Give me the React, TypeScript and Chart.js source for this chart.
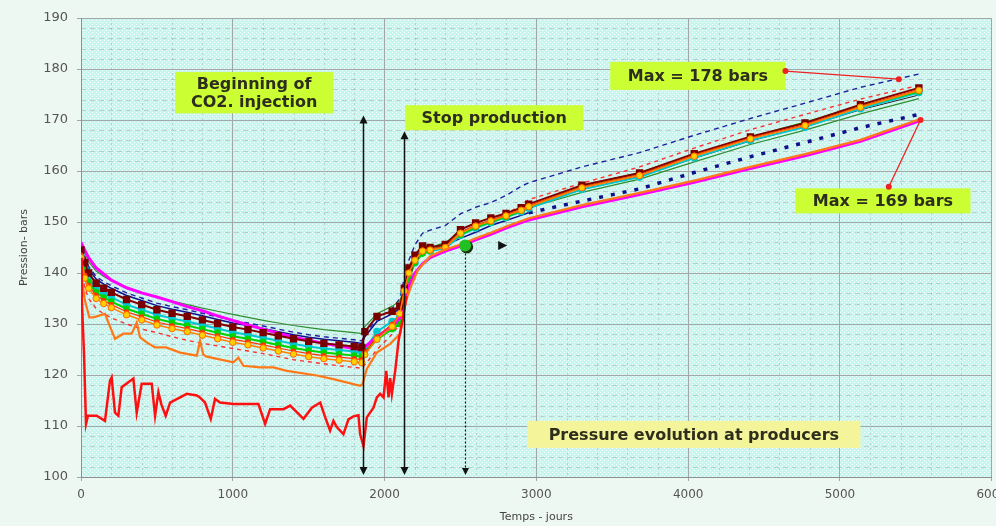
import { useEffect, useRef } from "react";
import { Chart, registerables } from "chart.js";

Chart.register(...registerables);

// ---------------- data ----------------
const earlyDays = [0, 25, 50, 100, 150, 200, 300, 400, 500, 600, 700, 800, 900, 1000, 1100, 1200, 1300, 1400, 1500, 1600, 1700, 1800, 1850];
const lateDays = [1870, 1950, 2050, 2100, 2130, 2160, 2200, 2250, 2300, 2400, 2500, 2600, 2700, 2800, 2900, 2950, 3300, 3680, 4040, 4410, 4770, 5135, 5520];
const days = [...earlyDays, ...lateDays];

const magentaP = [146, 144.5, 143, 141, 139.8, 138.6, 137.1, 136.1, 135.3, 134.4, 133.4, 132.6, 131.6, 130.7, 129.8, 129, 128.2, 127.4, 126.8, 126.2, 125.7, 125.2, 125,
  125.5, 127.5, 129.5, 131.2, 134.6, 137.5, 140, 141.8, 143, 144.3, 145.3, 146.5, 147.6, 148.8, 149.9, 150.4, 153, 155.4, 157.8, 160.5, 163, 165.8, 169.8];
const orangeMarkP = [143, 139, 137, 135, 134, 133.2, 131.8, 130.8, 129.8, 129.1, 128.5, 127.8, 127.1, 126.4, 125.9, 125.3, 124.7, 124.1, 123.6, 123.2, 122.9, 122.6, 122.4,
  124, 127, 129.5, 132, 136.5, 140, 142.5, 144.3, 144.5, 145, 147.8, 149.2, 150.2, 151.2, 152.3, 153, 156.7, 159.1, 162.9, 166.3, 168.9, 172.5, 175.8];
const maroonP = [144.5, 142, 140, 138, 137, 136.2, 134.8, 133.8, 132.8, 132.1, 131.5, 130.8, 130.1, 129.4, 128.9, 128.3, 127.7, 127.1, 126.6, 126.2, 125.9, 125.6, 125.4,
  128.5, 131.5, 132.5, 133.5, 137, 141, 143.5, 145.3, 145, 145.6, 148.5, 149.8, 150.8, 151.7, 152.8, 153.5, 157.2, 159.6, 163.4, 166.7, 169.4, 173, 176.3];
const cyanP = [144, 141, 139, 137, 136, 135.2, 133.8, 132.8, 131.8, 131.1, 130.5, 129.8, 129.1, 128.4, 127.9, 127.3, 126.7, 126.1, 125.6, 125.2, 124.9, 124.6, 124.4,
  125, 128.5, 130.5, 131.5, 136, 139.5, 142, 144, 144.3, 144.8, 147.4, 148.8, 149.9, 150.9, 152, 152.7, 156.4, 158.8, 162.6, 166, 168.6, 172.2, 175.4];
const greenP = [144, 140.2, 138.2, 136.2, 135.2, 134.4, 133, 132, 131, 130.3, 129.7, 129, 128.3, 127.6, 127.1, 126.5, 125.9, 125.3, 124.8, 124.4, 124.1, 123.8, 123.6,
  124.5, 127, 129, 130, 135, 139, 142, 143.8, 144.3, 145.5, 147.5, 149, 150, 151, 152.2, 153, 157, 159.6, 163.2, 166.6, 169.5, 172.7, 175.6];
const redMarkP = [143.5, 139.6, 137.6, 135.6, 134.6, 133.8, 132.4, 131.4, 130.4, 129.7, 129.1, 128.4, 127.7, 127, 126.5, 125.9, 125.3, 124.7, 124.2, 123.8, 123.5, 123.2, 123,
  124.5, 127.5, 130, 132, 136.5, 140, 142.5, 144.5, 144.7, 145.2, 148, 149.4, 150.4, 151.4, 152.5, 153.2, 156.9, 159.3, 163.1, 166.5, 169.1, 172.7, 176];
const blueP = [145, 142.8, 140.8, 138.8, 137.8, 137, 135.6, 134.6, 133.6, 132.9, 132.3, 131.6, 130.9, 130.2, 129.7, 129.1, 128.5, 127.9, 127.4, 127, 126.7, 126.4, 126.2,
  127.5, 130.5, 132, 133, 136, 139.5, 142.5, 144, 144.5, 145.5, 146.8, 148, 149.3, 150.3, 151.3, 151.8, 154.1, 156.5, 159.7, 162.8, 165.6, 168.5, 171.1];
const navyDashP = [145, 143.3, 141.3, 139.3, 138.3, 137.5, 136.1, 135.1, 134.1, 133.4, 132.8, 132.1, 131.4, 130.7, 130.2, 129.6, 129, 128.4, 127.9, 127.5, 127.2, 126.9, 126.7,
  128, 131, 133, 135, 139, 142.5, 145.5, 147.8, 148.4, 149.3, 151.6, 152.9, 153.8, 155.2, 157, 157.7, 160.8, 163.6, 167, 170.3, 173.3, 176.4, 179];
const darkGreenP = [145, 144, 142.2, 140.4, 139.3, 138.5, 137.2, 136.2, 135.3, 134.5, 133.8, 133.1, 132.5, 131.9, 131.3, 130.7, 130.2, 129.7, 129.3, 128.9, 128.6, 128.3, 128.1,
  129.5, 132, 133.5, 134.5, 137, 140.5, 143, 144.5, 145, 146, 148, 149.3, 150.3, 151.3, 152.3, 152.8, 155.8, 158.4, 161.8, 165.2, 168, 171.2, 174.2];
const redDashP = [141, 137, 135, 133, 132, 131.2, 130, 129, 128.3, 127.5, 126.8, 126.2, 125.7, 125.2, 124.7, 124.2, 123.6, 123, 122.6, 122.2, 121.8, 121.5, 121.3,
  122, 125, 128, 130, 135, 139, 142, 144, 144.3, 145, 147.5, 149, 150.2, 151.5, 153.4, 154.4, 157.6, 160.8, 164.5, 168.1, 171.1, 174.1, 176.8];

const blackDays = [2950, 3300, 3680, 4040, 4410, 4770, 5135, 5520];
const blackP = [152.9, 156.4, 158.9, 162.5, 165.9, 168.7, 172, 174.9];

const orangeDays = [0, 26, 55, 81, 125, 158, 180, 224, 279, 334, 367, 389, 433, 488, 560, 653, 763, 784, 806, 828, 1004, 1037, 1070, 1180, 1268, 1356, 1554, 1663, 1839, 1855,
  1883, 1949, 2037, 2103, 2140, 2180, 2220, 2300, 2400, 2500, 2600, 2700, 2800, 2900, 2950, 3300, 3680, 4040, 4410, 4770, 5135, 5520];
const orangeP = [140, 134.6, 131.3, 131.3, 131.7, 132, 130.3, 127.1, 128.1, 128.1, 130.3, 127.4, 126.4, 125.4, 125.4, 124.4, 123.8, 126.7, 124, 123.6, 122.5, 123.4, 121.8, 121.5, 121.5, 120.8, 119.9, 119.2, 117.9, 118.2,
  121.2, 124.4, 126.1, 128.1, 134.5, 137.8, 140.6, 143.3, 144.6, 145.6, 146.8, 147.9, 149.1, 150.2, 150.7, 153.3, 155.7, 158.1, 160.8, 163.3, 166.1, 170.1];

const redDays = [0, 5, 20, 33, 46, 103, 158, 191, 202, 224, 246, 268, 345, 367, 400, 466, 488, 510, 530, 558, 587, 653, 697, 763, 783, 817, 855, 883, 916, 1004,
  1114, 1169, 1213, 1246, 1334, 1378, 1466, 1521, 1576, 1609, 1641, 1663, 1685, 1729, 1762, 1795, 1828, 1839, 1861, 1883, 1927, 1949, 1971, 1993, 2011, 2026, 2037, 2048, 2070, 2092, 2120, 2145];
const redP = [143, 135, 124, 110.4, 112, 112, 111, 118.9, 119.5, 112.6, 112, 117.6, 119.3, 112.6, 118.3, 118.3, 112, 116.6, 114.2, 112, 114.6, 115.6, 116.3, 116, 115.6, 114.6, 111.4, 115.3, 114.6, 114.3,
  114.3, 114.3, 110.4, 113.3, 113.3, 114, 111.4, 113.6, 114.6, 111.7, 109.1, 111, 109.8, 108.4, 111.3, 111.9, 112.1, 108.4, 106.1, 111.7, 113.6, 115.6, 116.3, 115.6, 120.8, 115.6, 119.4, 116.3, 120.8, 126.7, 131, 135.5];

// event markers (days / bars)
const arrowDays = [1855, 2131];
const arrowTops = [170.9, 167.8];
const wellDay = 2531;
const wellP = 145.4;
const cursorDay = 2775;
const cursorP = 145.4;

// annotation texts with their anchor ranges in data units
const notes = [
  { lines: ["Beginning of", "CO2. injection"], x: [620, 1661], y: [171.3, 179.4], fill: "#ccff33" },
  { lines: ["Stop production"], x: [2136, 3309], y: [168.0, 172.9], fill: "#ccff33" },
  { lines: ["Max = 178 bars"], x: [3487, 4641], y: [175.9, 181.4], fill: "#ccff33" },
  { lines: ["Max = 169 bars"], x: [4707, 5860], y: [151.7, 156.6], fill: "#ccff33" },
  { lines: ["Pressure evolution at producers"], x: [2940, 5135], y: [105.7, 111.0], fill: "#f4f49a" },
];
const pointers = [
  { from: [4641, 179.6], to: [5388, 178.0] },
  { from: [5322, 156.9], to: [5531, 170.0] },
];

const pts = (xs: number[], ys: number[]) => xs.map((x, i) => ({ x, y: ys[i] }));

function makePattern(ctx: CanvasRenderingContext2D) {
  const c = document.createElement("canvas");
  c.width = 4;
  c.height = 4;
  const g = c.getContext("2d")!;
  g.fillStyle = "#c9f5ef";
  g.fillRect(0, 0, 4, 4);
  g.fillStyle = "#f4fffd";
  g.fillRect(0, 0, 1, 1);
  g.fillRect(2, 2, 1, 1);
  return ctx.createPattern(c, "repeat");
}

function head(ctx: CanvasRenderingContext2D, x: number, y: number, dir: string, s: number) {
  ctx.beginPath();
  if (dir === "up") {
    ctx.moveTo(x, y);
    ctx.lineTo(x - s / 2, y + s);
    ctx.lineTo(x + s / 2, y + s);
  } else if (dir === "down") {
    ctx.moveTo(x, y);
    ctx.lineTo(x - s / 2, y - s);
    ctx.lineTo(x + s / 2, y - s);
  } else {
    ctx.moveTo(x, y);
    ctx.lineTo(x - s, y - s / 2);
    ctx.lineTo(x - s, y + s / 2);
  }
  ctx.closePath();
  ctx.fill();
}

const overlay = {
  id: "overlay",
  beforeDraw(chart: any) {
    const { ctx, chartArea: a, scales } = chart;
    const xs = scales.x;
    const ys = scales.y;
    ctx.save();
    ctx.fillStyle = makePattern(ctx) || "#d2f4ef";
    ctx.fillRect(a.left, a.top, a.right - a.left, a.bottom - a.top);
    ctx.strokeStyle = "rgba(120,130,130,0.32)";
    ctx.lineWidth = 1;
    ctx.setLineDash([5, 4]);
    for (let v = 100; v <= 190; v += 2) {
      if (v % 10 === 0) continue;
      const y = Math.round(ys.getPixelForValue(v)) + 0.5;
      ctx.beginPath();
      ctx.moveTo(a.left, y);
      ctx.lineTo(a.right, y);
      ctx.stroke();
    }
    ctx.setLineDash([2, 3]);
    for (let d = 0; d <= 6000; d += 200) {
      if (d % 1000 === 0) continue;
      const x = Math.round(xs.getPixelForValue(d)) + 0.5;
      ctx.beginPath();
      ctx.moveTo(x, a.top);
      ctx.lineTo(x, a.bottom);
      ctx.stroke();
    }
    ctx.restore();
  },
  afterDatasetsDraw(chart: any) {
    const { ctx, scales } = chart;
    const X = (v: number) => scales.x.getPixelForValue(v);
    const Y = (v: number) => scales.y.getPixelForValue(v);
    ctx.save();
    // vertical arrows
    ctx.strokeStyle = "#111";
    ctx.fillStyle = "#111";
    ctx.lineWidth = 1.5;
    arrowDays.forEach((d, i) => {
      const x = Math.round(X(d)) + 0.5;
      const yt = Y(arrowTops[i]);
      const yb = Y(100) - 2;
      ctx.beginPath();
      ctx.moveTo(x, yt + 4);
      ctx.lineTo(x, yb - 4);
      ctx.stroke();
      head(ctx, x, yt, "up", 8);
      head(ctx, x, yb, "down", 8);
    });
    // dotted arrow from well marker
    const wx = Math.round(X(wellDay)) + 0.5;
    ctx.setLineDash([2, 2]);
    ctx.lineWidth = 1.2;
    ctx.beginPath();
    ctx.moveTo(wx, Y(wellP));
    ctx.lineTo(wx, Y(100) - 6);
    ctx.stroke();
    ctx.setLineDash([]);
    head(ctx, wx, Y(100) - 2, "down", 7);
    // well marker
    ctx.fillStyle = "#1e2a10";
    ctx.beginPath();
    ctx.arc(X(wellDay) + 1.5, Y(wellP) + 1.5, 6.5, 0, Math.PI * 2);
    ctx.fill();
    ctx.fillStyle = "#22c022";
    ctx.beginPath();
    ctx.arc(X(wellDay), Y(wellP), 6, 0, Math.PI * 2);
    ctx.fill();
    // cursor arrowhead
    ctx.fillStyle = "#111";
    head(ctx, X(cursorDay) + 5, Y(cursorP), "right", 9);
    // notes
    ctx.font = 'bold 16px "DejaVu Sans"';
    ctx.textAlign = "center";
    ctx.textBaseline = "middle";
    notes.forEach((n) => {
      const x1 = X(n.x[0]);
      const x2 = X(n.x[1]);
      const y1 = Y(n.y[1]);
      const y2 = Y(n.y[0]);
      ctx.fillStyle = n.fill;
      ctx.fillRect(x1, y1, x2 - x1, y2 - y1);
      ctx.fillStyle = "#2e2e1e";
      const cx = (x1 + x2) / 2;
      const cy = (y1 + y2) / 2;
      const lh = 18;
      n.lines.forEach((t, i) => {
        ctx.fillText(t, cx, cy + (i - (n.lines.length - 1) / 2) * lh + 1);
      });
    });
    // red pointers
    ctx.strokeStyle = "#ee2222";
    ctx.fillStyle = "#ee2222";
    ctx.lineWidth = 1.3;
    pointers.forEach((p) => {
      const ax = X(p.from[0]);
      const ay = Y(p.from[1]);
      const bx = X(p.to[0]);
      const by = Y(p.to[1]);
      ctx.beginPath();
      ctx.moveTo(ax, ay);
      ctx.lineTo(bx, by);
      ctx.stroke();
      [[ax, ay], [bx, by]].forEach(([px, py]) => {
        ctx.beginPath();
        ctx.arc(px, py, 3, 0, Math.PI * 2);
        ctx.fill();
      });
    });
    ctx.restore();
  },
};

const tickFont = { family: "DejaVu Sans", size: 12 };

export default function App() {
  const ref = useRef<HTMLCanvasElement>(null);
  useEffect(() => {
    document.documentElement.style.overflow = "hidden";
    const canvas = ref.current!;
    const late = (ctx: any) => ctx.p0.parsed.x >= 2950;
    const datasets: any[] = [
      { data: pts(redDays, redP), borderColor: "#ff1010", borderWidth: 2.5, pointRadius: 0 },
      { data: pts(orangeDays, orangeP), borderColor: "#ff7818", borderWidth: 2.2, pointRadius: 0 },
      { data: pts(days, orangeMarkP), borderColor: "#ff8000", borderWidth: 1.5, pointRadius: 3.2, pointBackgroundColor: "#ffd000", pointBorderColor: "#ff6a00", pointBorderWidth: 1 },
      { data: pts(days, redMarkP), borderColor: "#ff3300", borderWidth: 1.2, pointRadius: 2, pointBackgroundColor: "#ff3300", pointBorderColor: "#ff3300" },
      { data: pts(days, maroonP), borderColor: "#800000", borderWidth: 2, pointStyle: "rect", pointRadius: 3.8, pointBackgroundColor: "#7a0000", pointBorderColor: "#7a0000" },
      { data: pts(days, magentaP), borderColor: "#ff00ff", borderWidth: 3, pointRadius: 0 },
      { data: pts(days, greenP), borderColor: "#00d400", borderWidth: 2, pointRadius: 2.3, pointBackgroundColor: "#00d400", pointBorderColor: "#00d400" },
      { data: pts(days, cyanP), borderColor: "#00c8d0", borderWidth: 2, pointRadius: 2.8, pointBackgroundColor: "#00c8d0", pointBorderColor: "#00c8d0" },
      { data: pts(blackDays, blackP), borderColor: "#222", borderWidth: 1, pointRadius: 0 },
      { data: pts(days, darkGreenP), borderColor: "#2f8f2f", borderWidth: 1.2, pointRadius: 0 },
      {
        data: pts(days, blueP), borderColor: "#10108a", borderWidth: 1.5, pointRadius: 0,
        segment: { borderDash: (c: any) => (late(c) ? [4, 8] : undefined), borderWidth: (c: any) => (late(c) ? 3.5 : 1.5) },
      },
      { data: pts(days, navyDashP), borderColor: "#2020a0", borderWidth: 1.4, borderDash: [5, 4], pointRadius: 0 },
      { data: pts(days, redDashP), borderColor: "#ff3030", borderWidth: 1.4, borderDash: [4, 4], pointRadius: 0 },
    ];
    const chart = new Chart(canvas, {
      type: "line",
      data: { datasets },
      options: {
        animation: false,
        responsive: true,
        maintainAspectRatio: false,
        layout: { padding: { top: 18, left: 0, right: 0, bottom: 0 } },
        plugins: { legend: { display: false }, tooltip: { enabled: false } },
        elements: { line: { tension: 0 } },
        scales: {
          x: {
            type: "linear",
            min: 0,
            max: 6000,
            ticks: { stepSize: 1000, color: "#555", font: tickFont, padding: 7, maxRotation: 0, callback: (v: any) => String(v) },
            grid: { color: "#a2a8a8", tickLength: 4 },
            border: { color: "#8a9090" },
            title: { display: true, text: "Temps - jours", color: "#444", font: { family: "DejaVu Sans", size: 11 }, padding: { top: 0, bottom: 2 } },
            afterFit: (s: any) => { s.height = 49; },
          },
          y: {
            min: 100,
            max: 190,
            ticks: { stepSize: 10, color: "#555", font: { family: "DejaVu Sans", size: 13 }, padding: 9, callback: (v: any) => String(v) },
            grid: { color: "#a2a8a8", tickLength: 4 },
            border: { color: "#8a9090" },
            title: { display: true, text: "Pression- bars", color: "#444", font: { family: "DejaVu Sans", size: 11 }, padding: { top: 18, bottom: 0 } },
            afterFit: (s: any) => { s.width = 81; },
          },
        },
      } as any,
      plugins: [overlay as any],
    });
    return () => chart.destroy();
  }, []);
  return (
    <div style={{ position: "fixed", left: 0, top: 0, width: 1014, height: 526, background: "#eef8f2" }}>
      <canvas ref={ref} />
    </div>
  );
}
